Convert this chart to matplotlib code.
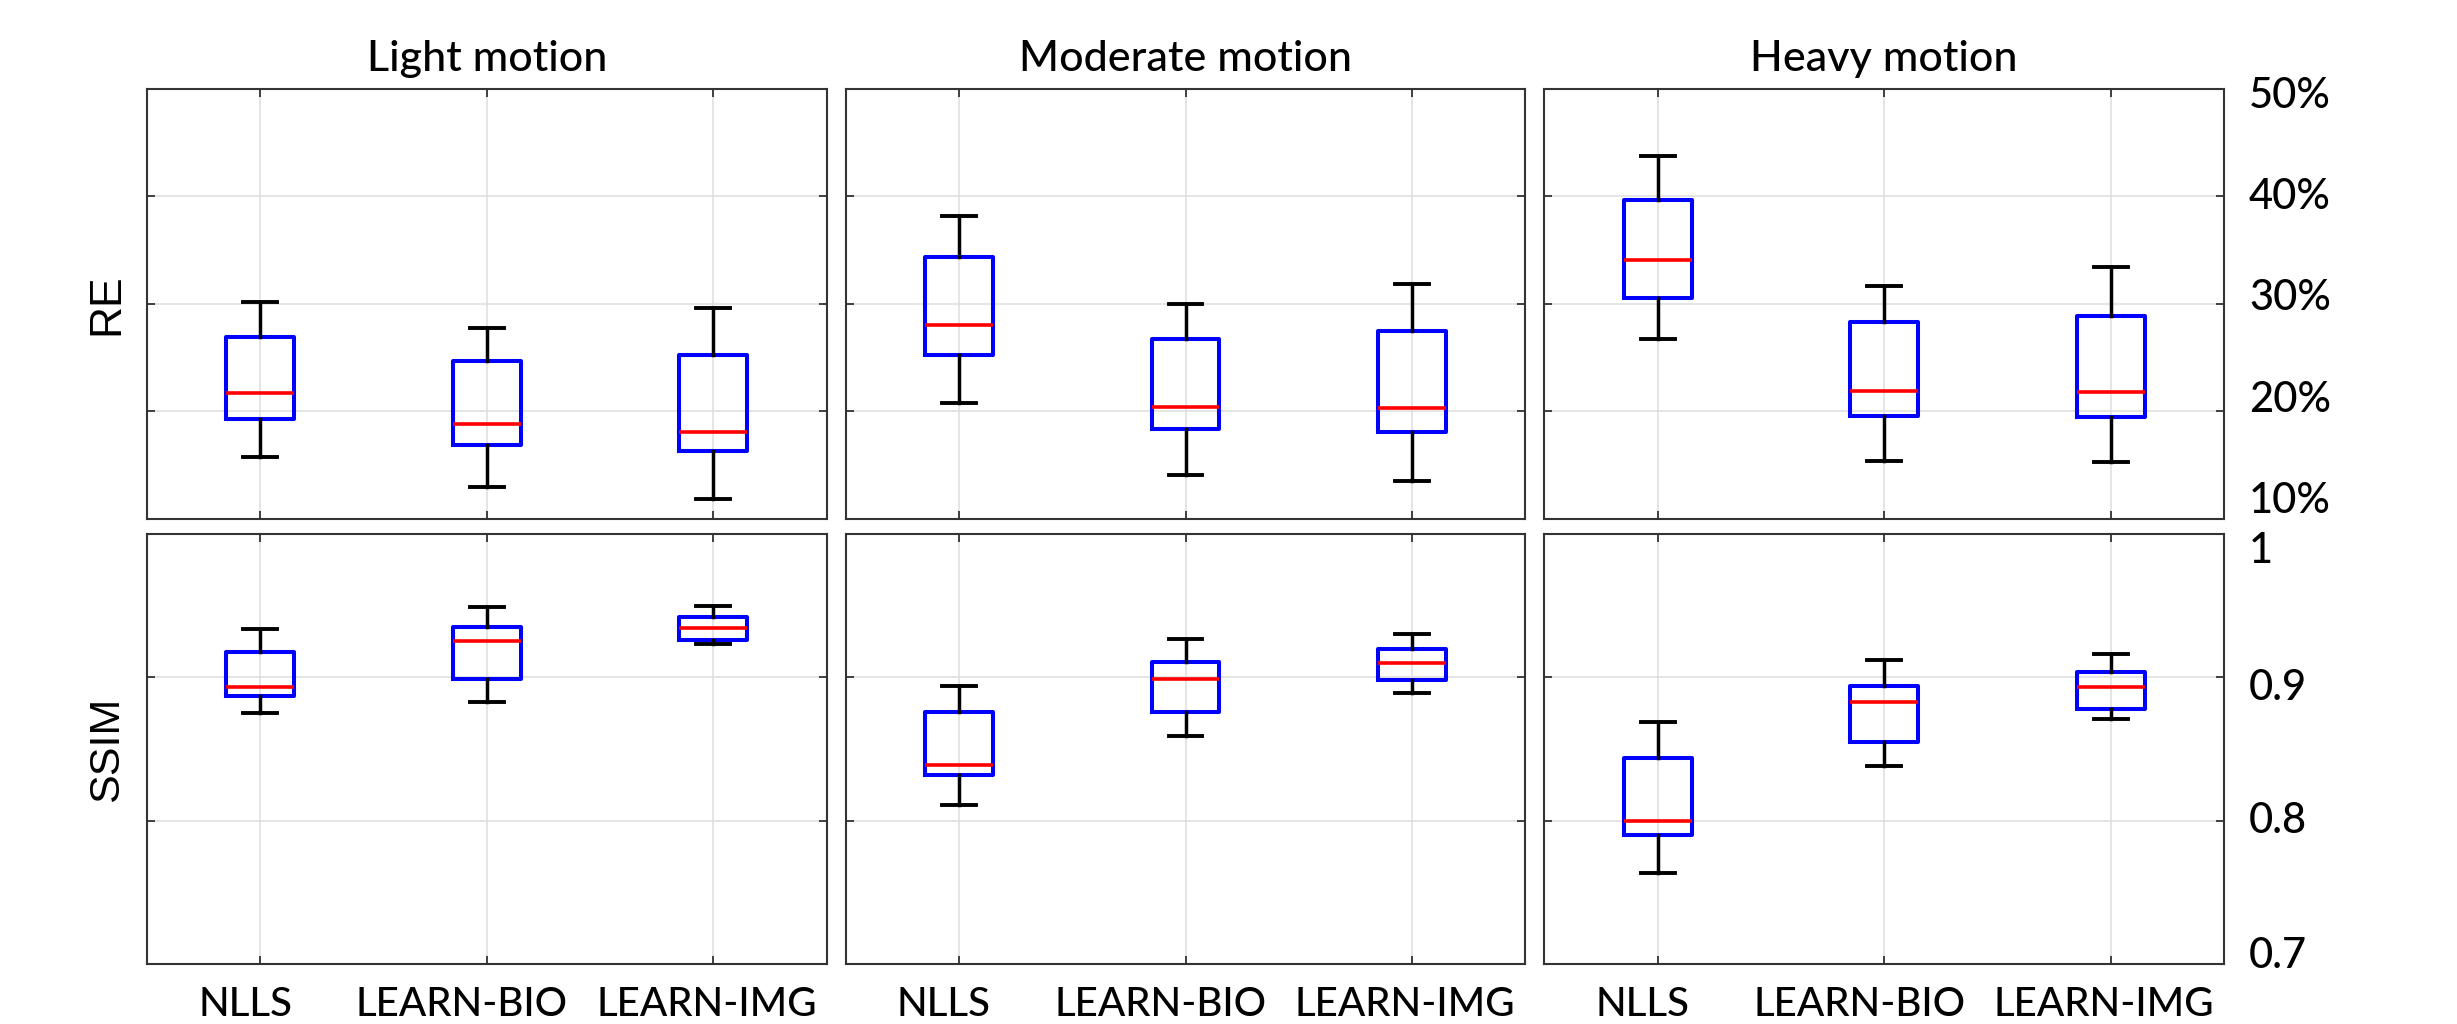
import matplotlib
matplotlib.use("Agg")
import matplotlib.pyplot as plt
from matplotlib.transforms import ScaledTranslation

# ---------------- data ----------------
methods = ["NLLS", "LEARN-BIO", "LEARN-IMG"]
conditions = ["Light motion", "Moderate motion", "Heavy motion"]

# RE (%) : whisker low, q1, median, q3, whisker high  per method
re_light_lo  = [15.8, 13.0, 11.9]
re_light_q1  = [19.3, 16.9, 16.3]
re_light_med = [21.7, 18.8, 18.1]
re_light_q3  = [26.9, 24.7, 25.3]
re_light_hi  = [30.2, 27.8, 29.6]

re_mod_lo  = [20.8, 14.1, 13.5]
re_mod_q1  = [25.3, 18.4, 18.1]
re_mod_med = [28.0, 20.4, 20.3]
re_mod_q3  = [34.4, 26.7, 27.5]
re_mod_hi  = [38.2, 30.0, 31.9]

re_heavy_lo  = [26.7, 15.35, 15.3]
re_heavy_q1  = [30.6, 19.6, 19.5]
re_heavy_med = [34.1, 21.9, 21.8]
re_heavy_q3  = [39.7, 28.3, 28.85]
re_heavy_hi  = [43.8, 31.7, 33.4]

# SSIM
ssim_light_lo  = [0.875, 0.883, 0.923]
ssim_light_q1  = [0.887, 0.899, 0.926]
ssim_light_med = [0.893, 0.925, 0.9345]
ssim_light_q3  = [0.918, 0.935, 0.942]
ssim_light_hi  = [0.9336, 0.949, 0.950]

ssim_mod_lo  = [0.811, 0.859, 0.889]
ssim_mod_q1  = [0.832, 0.876, 0.898]
ssim_mod_med = [0.8385, 0.899, 0.910]
ssim_mod_q3  = [0.876, 0.911, 0.9196]
ssim_mod_hi  = [0.894, 0.927, 0.930]

ssim_heavy_lo  = [0.7636, 0.838, 0.871]
ssim_heavy_q1  = [0.7897, 0.855, 0.878]
ssim_heavy_med = [0.7995, 0.8825, 0.893]
ssim_heavy_q3  = [0.8436, 0.894, 0.904]
ssim_heavy_hi  = [0.869, 0.912, 0.916]

re_ticks = [10, 20, 30, 40, 50]
re_ticklabels = ["10%", "20%", "30%", "40%", "50%"]
ssim_ticks = [0.7, 0.8, 0.9, 1.0]
ssim_ticklabels = ["0.7", "0.8", "0.9", "1"]

re_sets = [
    (re_light_lo, re_light_q1, re_light_med, re_light_q3, re_light_hi),
    (re_mod_lo, re_mod_q1, re_mod_med, re_mod_q3, re_mod_hi),
    (re_heavy_lo, re_heavy_q1, re_heavy_med, re_heavy_q3, re_heavy_hi),
]
ssim_sets = [
    (ssim_light_lo, ssim_light_q1, ssim_light_med, ssim_light_q3, ssim_light_hi),
    (ssim_mod_lo, ssim_mod_q1, ssim_mod_med, ssim_mod_q3, ssim_mod_hi),
    (ssim_heavy_lo, ssim_heavy_q1, ssim_heavy_med, ssim_heavy_q3, ssim_heavy_hi),
]

# ---------------- style ----------------
FONT = ["Lato", "DejaVu Sans"]
LABEL_FONT = ["Liberation Sans", "DejaVu Sans"]
SPINE = "#333333"
GRID = "#dedede"

# pixel nudges of tick labels (layout only, positive = down / right)
re_label_dy = [-21, -15, -9, -2.5, 4]
ssim_label_dy = [-11, -3, 7, 14]
x_label_dx = [-15, -25, -7]

fig = plt.figure(figsize=(24.57, 10.24), dpi=100)
fig.subplots_adjust(left=0.0598, right=0.9052, top=0.9131, bottom=0.0586,
                    wspace=0.0279, hspace=0.0349)
axes = fig.subplots(2, 3)


def make_stats(lo, q1, med, q3, hi):
    return [dict(whislo=lo[i], q1=q1[i], med=med[i], q3=q3[i], whishi=hi[i],
                 fliers=[], label=methods[i]) for i in range(len(methods))]


def nudge(labels, offs, vertical=True):
    for lab, off in zip(labels, offs):
        if vertical:
            tr = ScaledTranslation(0, -off / 100.0, fig.dpi_scale_trans)
        else:
            tr = ScaledTranslation(off / 100.0, 0, fig.dpi_scale_trans)
        lab.set_transform(lab.get_transform() + tr)


for r in range(2):
    for c in range(3):
        ax = axes[r, c]
        data = re_sets[c] if r == 0 else ssim_sets[c]
        stats = make_stats(*data)
        ax.bxp(stats, positions=[1, 2, 3], widths=0.3, showfliers=False,
               boxprops=dict(color="#0000ff", linewidth=2.9),
               medianprops=dict(color="#ff0000", linewidth=2.6),
               whiskerprops=dict(color="black", linewidth=2.5, linestyle="-"),
               capprops=dict(color="black", linewidth=2.8),
               capwidths=0.15, zorder=3)
        ax.set_xlim(0.5, 3.5)
        if r == 0:
            ax.set_ylim(10, 50)
            ax.set_yticks(re_ticks)
            ax.set_yticklabels(re_ticklabels)
        else:
            ax.set_ylim(0.7, 1.0)
            ax.set_yticks(ssim_ticks)
            ax.set_yticklabels(ssim_ticklabels)
        ax.set_xticks([1, 2, 3])
        ax.set_xticklabels(methods)
        ax.grid(True, color=GRID, linewidth=1.1, zorder=0)
        ax.set_axisbelow(True)
        for s in ax.spines.values():
            s.set_color(SPINE)
            s.set_linewidth(1.5)
        ax.tick_params(direction="in", length=6, width=1.3, color=SPINE,
                       left=True, right=True, top=True, bottom=True,
                       labelleft=False, labelright=(c == 2),
                       labelbottom=(r == 1), labeltop=False)
        ax.tick_params(axis="y", pad=18, labelsize=30)
        ax.tick_params(axis="x", pad=16, labelsize=29)
        for lab in ax.get_yticklabels() + ax.get_xticklabels():
            lab.set_fontfamily(FONT)
            lab.set_fontweight("medium")
        if c == 2:
            nudge(ax.get_yticklabels(), re_label_dy if r == 0 else ssim_label_dy)
        if r == 1:
            nudge(ax.get_xticklabels(), x_label_dx, vertical=False)
        if r == 0:
            ax.set_title(conditions[c], fontsize=31, family=FONT,
                         fontweight="medium", pad=13)

axes[0, 0].set_ylabel("RE", fontsize=32, family=LABEL_FONT)
axes[1, 0].set_ylabel("SSIM", fontsize=31, family=LABEL_FONT)
axes[0, 0].yaxis.set_label_coords(-0.029, 0.5)
axes[1, 0].yaxis.set_label_coords(-0.029, 0.5)

fig.savefig("out.png", dpi=100)
